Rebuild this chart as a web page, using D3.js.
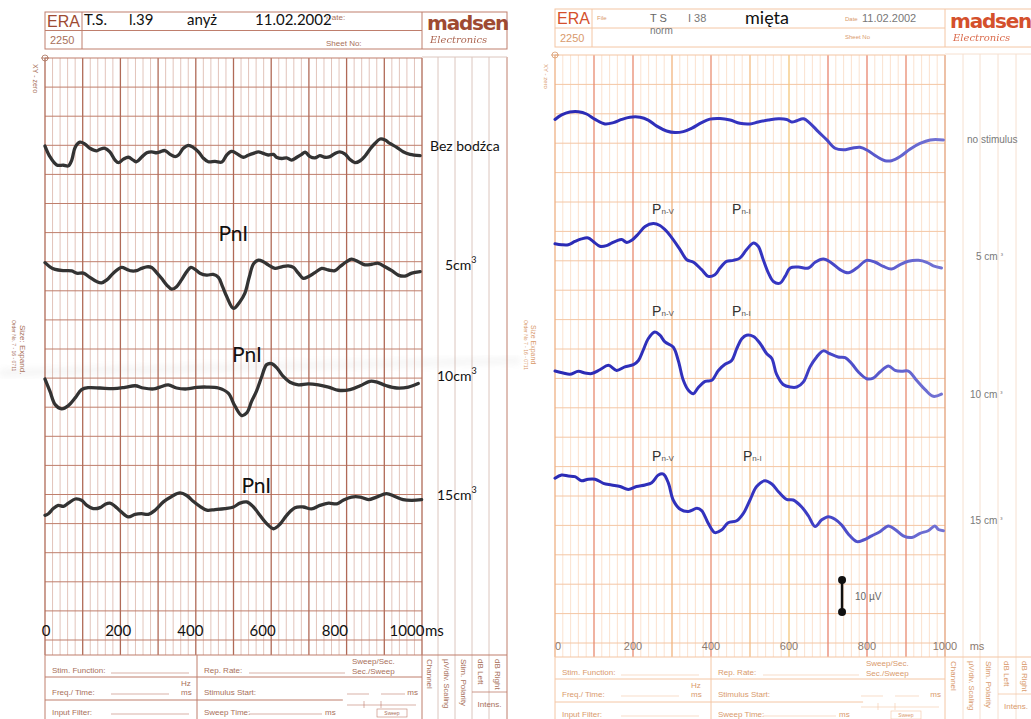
<!DOCTYPE html>
<html>
<head>
<meta charset="utf-8">
<script src="https://cdn.jsdelivr.net/npm/d3@7"></script>
<style>
	body { margin: 0; background: #fff; }
	svg { display: block; }
</style>
</head>
<body>
<div id="chart"></div>
<script>
// time axis (ms)
const timeTicks = [0, 200, 400, 600, 800, 1000];

// left sheet: anise ("anyż"), amplitude in µV, time in ms
const anyzLabels = ['Bez bodźca', '5cm', '10cm', '15cm'];
const anyzNoStim = [[0,2.8],[13,-0.5],[31,-3.1],[49,-3.2],[62,-3.4],[71,-1.6],[80,2.4],[93,4.0],[106,3.4],[119,2.1],[137,1.3],[146,1.8],[159,2.1],[172,1.0],[186,-1.6],[195,-2.4],[208,-1.3],[221,-0.7],[234,-1.6],[243,-2.1],[256,-0.7],[270,0.7],[283,1.0],[296,0.7],[305,1.0],[318,1.4],[332,0.2],[345,-0.5],[354,0],[367,2.1],[380,3.0],[393,2.4],[407,1.0],[420,-1.0],[433,-2.1],[451,-2.0],[469,-2.2],[482,0],[495,1.1],[508,0.5],[526,-0.7],[539,-0.1],[553,0.5],[566,1.0],[579,0.5],[592,0],[606,0.2],[614,-0.7],[628,-1.1],[641,-0.9],[654,-1.6],[668,-0.7],[681,0.2],[690,0.9],[703,-0.5],[716,-0.9],[729,-0.2],[743,-0.7],[756,-0.5],[769,0.5],[782,1.0],[796,0.3],[809,-1.4],[822,-2.4],[836,-1.8],[849,-0.3],[862,1.8],[875,3.6],[889,5.0],[902,4.7],[915,3.6],[933,2.4],[950,1.0],[968,0.2],[995,-0.2]];
const anyz5 = [[0,2.3],[13,1.0],[27,0.2],[49,-0.2],[71,-0.3],[84,-1.0],[102,-1.0],[119,-2.3],[137,-3.6],[150,-4.0],[164,-3.1],[181,-1.0],[203,0.8],[217,0.2],[230,-0.3],[243,-0.2],[256,0.5],[270,1.0],[283,0.8],[296,-0.8],[309,-2.6],[323,-4.7],[336,-6.0],[349,-5.2],[362,-3.1],[376,-0.5],[387,0.8],[398,0.2],[411,-1.0],[429,-1.6],[446,-1.4],[460,-2.3],[471,-5.2],[482,-8.3],[500,-12.0],[517,-9.9],[530,-7.3],[542,-2.1],[553,1.9],[566,3.1],[579,2.6],[592,1.6],[610,0.5],[628,1.0],[645,1.3],[659,0.8],[672,-1.0],[685,-2.6],[698,-2.1],[716,-0.8],[734,0.5],[752,0],[769,-0.2],[782,1.0],[800,2.6],[813,3.4],[831,2.6],[849,1.6],[867,1.8],[884,2.1],[902,1.0],[920,-0.2],[937,-1.6],[955,-1.9],[973,-1.0],[995,-0.5]];
const anyz10 = [[0,2.8],[13,-1.0],[27,-5.2],[44,-6.5],[62,-5.5],[80,-3.1],[97,-0.5],[115,0.1],[146,0],[181,-0.2],[212,0.2],[239,0.7],[261,0],[288,-0.3],[305,0.3],[327,1.0],[349,0],[376,-0.3],[402,0.2],[429,0.3],[460,0],[486,-1.6],[504,-5.7],[522,-8.6],[535,-7.8],[548,-4.2],[561,-1.0],[575,3.6],[588,7.3],[601,7.6],[615,6.3],[632,3.6],[650,1.8],[672,1.0],[698,1.3],[725,1.0],[752,0.3],[778,-0.7],[809,-0.5],[836,0.7],[862,2.1],[879,1.9],[906,0.7],[933,0],[964,0.3],[990,1.4]];
const anyz15 = [[0,-2.6],[9,-2.1],[22,-0.5],[35,0.5],[49,0.2],[62,1.2],[80,2.5],[97,2.1],[111,0.5],[128,-0.5],[146,-0.2],[159,0.8],[172,1.2],[186,0.2],[203,-1.6],[221,-3.1],[239,-2.3],[256,-2.1],[274,-2.3],[292,-1.0],[314,1.6],[336,3.3],[358,4.4],[376,3.6],[393,1.8],[411,0.2],[429,-1.0],[451,-0.8],[477,-0.5],[500,0],[517,1.2],[535,1.6],[553,0],[570,-2.6],[588,-5.2],[606,-6.8],[623,-5.4],[641,-2.6],[663,-0.2],[685,0],[707,-0.6],[729,0.5],[752,1.2],[774,1.0],[791,2.1],[813,3.1],[836,3.1],[858,2.3],[879,3.1],[906,4.2],[928,3.3],[950,2.3],[973,2.1],[999,2.3]];
// PnI marks: [trace index, ms, µV above baseline]
const anyzPeaks = [[1, 460, 9.0], [2, 496, 8.1], [3, 521, 4.4]];

// right sheet: mint ("mięta")
const mietaLabels = ['no stimulus', '5 cm', '10 cm', '15 cm'];
const mietaNoStim = [[0,3.3],[17,4.7],[38,5.6],[60,5.7],[81,5.0],[103,3.3],[128,1.9],[150,2.3],[171,3.3],[192,4.0],[218,4.0],[239,3.1],[261,1.2],[286,-0.3],[308,-0.8],[329,-0.5],[350,0.5],[376,2.3],[397,3.4],[423,3.6],[449,3.1],[474,2.1],[500,1.9],[521,2.5],[547,3.1],[573,3.5],[594,3.3],[607,2.5],[620,2.9],[637,3.5],[654,2.1],[675,-0.5],[697,-3.1],[718,-5.7],[739,-6.2],[761,-5.7],[782,-5.4],[803,-6.5],[825,-8.3],[846,-9.6],[863,-9.6],[885,-8.3],[910,-6.0],[936,-4.2],[962,-3.1],[996,-3.1]];
const mieta5 = [[0,2.9],[17,2.6],[34,2.6],[51,3.6],[68,4.4],[85,4.7],[98,3.6],[115,2.1],[132,2.3],[145,3.1],[158,3.8],[171,4.2],[184,3.3],[197,4.0],[214,6.0],[231,8.3],[252,9.2],[269,8.6],[286,6.8],[303,4.2],[321,1.0],[338,-2.1],[355,-2.9],[376,-5.2],[393,-7.3],[410,-6.8],[423,-4.7],[440,-2.6],[457,-2.3],[474,-1.6],[491,1.0],[509,3.1],[521,2.1],[534,-2.1],[547,-6.2],[560,-8.9],[577,-9.4],[590,-7.3],[603,-4.7],[624,-4.4],[650,-4.7],[667,-2.9],[688,-1.9],[709,-3.1],[731,-5.2],[752,-6.2],[774,-4.7],[799,-2.3],[821,-2.9],[842,-4.2],[863,-5.0],[885,-3.6],[906,-2.6],[932,-2.3],[953,-2.9],[970,-4.0],[991,-4.7]];
const mieta10 = [[0,0.3],[21,-0.3],[38,-0.7],[60,0.2],[77,-0.3],[94,-0.5],[115,0.7],[137,2.1],[158,0.5],[179,1.6],[201,2.3],[214,3.6],[226,6.8],[239,10.4],[256,12.5],[269,11.5],[282,9.4],[303,7.8],[316,3.6],[329,-2.6],[342,-5.7],[355,-6.8],[367,-4.9],[385,-2.9],[402,-2.6],[419,0.5],[436,2.4],[453,3.6],[466,7.3],[479,10.4],[491,11.5],[509,11.1],[526,8.9],[543,5.7],[556,4.2],[568,-0.7],[585,-3.9],[603,-4.7],[620,-4.7],[637,-3.1],[654,1.6],[671,4.7],[688,6.6],[705,5.7],[726,4.7],[744,4.5],[761,2.6],[778,0],[799,-2.1],[816,-1.9],[833,0],[855,1.9],[872,0.5],[889,0.2],[906,0.3],[927,-2.6],[949,-5.5],[970,-7.6],[991,-6.9]];
const mieta15 = [[0,6.8],[17,7.8],[34,7.5],[51,7.3],[68,6.0],[85,6.5],[103,6.5],[124,5.2],[145,4.7],[167,4.2],[188,3.3],[209,4.2],[231,4.7],[248,5.4],[265,7.8],[278,8.1],[291,5.2],[303,0],[321,-2.9],[342,-3.6],[364,-2.6],[376,-3.3],[393,-7.3],[410,-10.2],[427,-9.4],[444,-7.1],[466,-6.5],[483,-4.2],[500,0],[517,4.2],[538,6.0],[556,5.0],[573,2.6],[594,0.2],[611,0],[632,-2.1],[650,-5.0],[667,-8.3],[684,-6.2],[701,-5.2],[718,-6.0],[735,-7.8],[752,-10.6],[774,-13.0],[791,-12.5],[812,-11.2],[833,-9.9],[855,-8.1],[872,-9.2],[893,-11.2],[915,-11.7],[936,-10.4],[957,-9.6],[974,-8.1],[983,-9.2],[996,-9.6]];
// Pn-V / Pn-I marks: [trace index, label sub, ms, µV above baseline]
const mietaPeaks = [[1,'n-V',249,12.2],[1,'n-I',454,12.2],[2,'n-V',249,17.4],[2,'n-I',454,17.4],[3,'n-V',249,12.2],[3,'n-I',482,12.2]];
// calibration bar: ms, from µV, to µV (relative to the last trace)
const calBar = [736, -25, -35];

const svg = d3.select('#chart').append('svg').attr('width', 1031).attr('height', 719);
const defs = svg.append('defs');
defs.append('filter').attr('id', 'soft').append('feGaussianBlur').attr('stdDeviation', 3);
let grad = defs.append('linearGradient').attr('id', 'blueInk')
	.attr('gradientUnits', 'userSpaceOnUse').attr('x1', 555).attr('x2', 945).attr('y1', 0).attr('y2', 0);
grad.append('stop').attr('offset', 0).attr('stop-color', '#2a2ab4');
grad.append('stop').attr('offset', 0.6).attr('stop-color', '#3636c2');
grad.append('stop').attr('offset', 1).attr('stop-color', '#7474d4');

const amp = d3.scaleLinear().domain([0, 10]).range([0, -32]);   // 10 µV = 32 px

let pages = [
	{
		x: d3.scaleLinear().domain([0, 1000]).range([45, 422]),
		gy0: 58, gy1: 655, hStep: 29.1,
		cols: [438, 455, 472, 489, 507],
		hdr: { x0: 45, x1: 507, y0: 12, y1: 49 },
		logoX0: 422, formDiv: 197,
		majors: ['#b06a57'], minor: '#dfbdb3', hline: '#bf7e6c',
		colLine: '#dcc6be', ink: '#a8705a', logo: '#9e4a32',
		bases: [155, 270, 388, 507]
	},
	{
		x: d3.scaleLinear().domain([0, 1000]).range([555, 945]),
		gy0: 55, gy1: 657, hStep: 29.4,
		cols: [963, 980, 998, 1016, 1034],
		hdr: { x0: 555, x1: 1040, y0: 9, y1: 47 },
		logoX0: 945, formDiv: 711,
		majors: ['#eeb184', '#e88a70', '#e88a70', '#f2b47e', '#e98e72', '#f3bd84', '#f4c67c', '#e8846e', '#e8846e', '#e88a70', '#e3a078'],
		minor: '#fadfca', hline: '#f4c6a4',
		colLine: '#f6e0d0', ink: '#d99a6c', logo: '#d4502c',
		bases: [130, 253, 372, 500]
	}
];

function drawGrid(g, p) {
	let x = p.x;
	let minors = d3.range(0, 1001, 20).filter(d => d % 100 !== 0);
	g.selectAll('.minor').data(minors).enter().append('line')
		.attr('x1', d => x(d)).attr('x2', d => x(d))
		.attr('y1', p.gy0).attr('y2', p.gy1)
		.attr('stroke', p.minor).attr('stroke-width', 0.9);
	g.selectAll('.hl').data(d3.range(p.gy0 + p.hStep, p.gy1 - 5, p.hStep)).enter().append('line')
		.attr('x1', x(0)).attr('x2', x(1000)).attr('y1', d => d).attr('y2', d => d)
		.attr('stroke', p.hline).attr('stroke-width', 1);
	g.selectAll('.major').data(d3.range(0, 1001, 100)).enter().append('line')
		.attr('x1', d => x(d)).attr('x2', d => x(d))
		.attr('y1', p.gy0).attr('y2', p.gy1)
		.attr('stroke', (d, i) => p.majors[i % p.majors.length]).attr('stroke-width', 1.3);
	g.append('line').attr('x1', x(0)).attr('x2', x(1000)).attr('y1', p.gy0).attr('y2', p.gy0)
		.attr('stroke', p.hline).attr('stroke-width', 1.2);
	// side columns
	g.selectAll('.col').data(p.cols).enter().append('line')
		.attr('x1', d => d).attr('x2', d => d).attr('y1', p.gy0 - 1).attr('y2', 719)
		.attr('stroke', (d, i) => i === p.cols.length - 1 ? p.hline : p.colLine).attr('stroke-width', 1);
	g.append('line').attr('x1', x(1000)).attr('x2', x(1000)).attr('y1', p.gy1).attr('y2', 719)
		.attr('stroke', p.hline);
	g.append('line').attr('x1', x(1000)).attr('x2', p.cols[p.cols.length - 1]).attr('y1', p.gy0 - 1).attr('y2', p.gy0 - 1)
		.attr('stroke', p.colLine);
	// XY zero mark
	g.append('circle').attr('cx', x(0)).attr('cy', p.gy0).attr('r', 3)
		.attr('fill', 'none').attr('stroke', p.ink).attr('stroke-width', 0.8);
	g.append('line').attr('x1', x(0) - 4).attr('x2', x(0) + 4).attr('y1', p.gy0).attr('y2', p.gy0).attr('stroke', p.ink).attr('stroke-width', 0.8);
}

function drawHeader(g, p, logoY) {
	let h = p.hdr;
	g.append('rect').attr('x', h.x0).attr('y', h.y0).attr('width', h.x1 - h.x0).attr('height', h.y1 - h.y0)
		.attr('fill', 'none').attr('stroke', p.hline).attr('stroke-width', 1);
	let mid = (h.y0 + h.y1) / 2;
	g.append('line').attr('x1', h.x0).attr('x2', p.logoX0).attr('y1', mid).attr('y2', mid).attr('stroke', p.hline);
	[h.x0 + 37, p.logoX0].forEach(v => g.append('line').attr('x1', v).attr('x2', v).attr('y1', h.y0).attr('y2', h.y1).attr('stroke', p.hline));
	g.append('text').attr('x', h.x0 + 2).attr('y', h.y0 + 15).text('ERA')
		.attr('font-family', 'Liberation Sans, sans-serif').attr('font-size', 16).attr('fill', p.logo);
	g.append('text').attr('x', h.x0 + 5).attr('y', h.y1 - 5).text('2250')
		.attr('font-family', 'Liberation Sans, sans-serif').attr('font-size', 11).attr('fill', p.ink);
	g.append('text').attr('x', p.logoX0 + 5).attr('y', logoY).text('madsen')
		.attr('font-family', 'DejaVu Sans, sans-serif').attr('font-weight', 'bold').attr('font-size', 20)
		.attr('letter-spacing', -1.2).attr('fill', p.logo);
	g.append('text').attr('x', p.logoX0 + 8).attr('y', logoY + 13).text('Electronics')
		.attr('font-family', 'DejaVu Serif, serif').attr('font-style', 'italic').attr('font-size', 10)
		.attr('fill', p.logo).attr('opacity', 0.85);
}

function drawForm(g, p) {
	let x0 = p.x(0), x1 = p.x(1000), y0 = p.gy1, dv = p.formDiv;
	let ink = p.ink;
	let font = 'Liberation Sans, sans-serif';
	let ln = (a, b, c, d, w) => g.append('line').attr('x1', a).attr('x2', b).attr('y1', c).attr('y2', d)
		.attr('stroke', p.hline).attr('stroke-width', w || 1);
	let tx = (s, x, y, anchor) => g.append('text').attr('x', x).attr('y', y).text(s)
		.attr('font-family', font).attr('font-size', 8).attr('fill', ink).attr('text-anchor', anchor || 'start');
	ln(x0, p.cols[p.cols.length - 1], y0, y0, 1.2);
	ln(x0, x1, y0 + 22, y0 + 22);
	ln(x0, x0 + (x1 - x0) * 0.79, y0 + 45, y0 + 45);
	ln(x0, x0, y0, 719);
	ln(dv, dv, y0, 719);
	tx('Stim. Function:', x0 + 7, y0 + 18);
	ln(x0 + 66, x0 + 144, y0 + 18, y0 + 18, 0.6);
	tx('Freq./ Time:', x0 + 7, y0 + 40);
	ln(x0 + 66, x0 + 124, y0 + 39, y0 + 39, 0.6);
	tx('Hz', x0 + 136, y0 + 31); tx('ms', x0 + 136, y0 + 40);
	tx('Input Filter:', x0 + 7, y0 + 60);
	ln(x0 + 66, x0 + 144, y0 + 59, y0 + 59, 0.6);
	tx('Rep. Rate:', dv + 7, y0 + 18);
	ln(dv + 52, dv + 148, y0 + 18, y0 + 18, 0.6);
	tx('Sweep/Sec.', dv + 155, y0 + 9); tx('Sec./Sweep', dv + 155, y0 + 19);
	tx('Stimulus Start:', dv + 7, y0 + 40);
	ln(dv + 150, dv + 172, y0 + 39, y0 + 39, 0.6);
	ln(dv + 184, dv + 208, y0 + 39, y0 + 39, 0.6);
	tx('ms', x1 - 4, y0 + 40, 'end');
	ln(dv + 150, x1 - 6, y0 + 50, y0 + 50, 0.6);
	ln(dv + 167, dv + 167, y0 + 46, y0 + 53, 0.6);
	ln(dv + 184, dv + 184, y0 + 46, y0 + 53, 0.6);
	g.append('rect').attr('x', dv + 180).attr('y', y0 + 54).attr('width', 30).attr('height', 8)
		.attr('fill', 'none').attr('stroke', p.hline).attr('stroke-width', 0.6);
	g.append('text').attr('x', dv + 195).attr('y', y0 + 60).text('Sweep').attr('text-anchor', 'middle')
		.attr('font-family', font).attr('font-size', 5).attr('fill', ink);
	tx('Sweep Time:', dv + 7, y0 + 60);
	ln(dv + 52, dv + 125, y0 + 59, y0 + 59, 0.6);
	tx('ms', dv + 128, y0 + 60);
	// rotated column headers
	let colMid = [(x1 + p.cols[0]) / 2, (p.cols[0] + p.cols[1]) / 2, (p.cols[1] + p.cols[2]) / 2, (p.cols[2] + p.cols[3]) / 2, (p.cols[3] + p.cols[4]) / 2];
	[['Channel', 8], ['µV/div. Scaling', 7.5], ['Stim. Polarity', 8], ['dB Left', 8], ['dB Right', 8]].forEach((s, i) => {
		g.append('text').attr('transform', `translate(${colMid[i] - 3},${y0 + 4}) rotate(90)`).text(s[0])
			.attr('font-family', font).attr('font-size', s[1]).attr('fill', ink);
	});
	ln(p.cols[2], p.cols[4], y0 + 37, y0 + 37, 0.8);
	tx('Intens.', (p.cols[2] + p.cols[4]) / 2, y0 + 52, 'middle');
}

function drawTraces(g, p, traces, style) {
	traces.forEach((tr, i) => {
		let line = d3.line()
			.x(d => p.x(d[0]))
			.y(d => p.bases[i] + amp(d[1]))
			.curve(d3.curveCatmullRom.alpha(0.5));
		g.append('path').datum(tr).attr('d', line)
			.attr('fill', 'none').attr('stroke', style.color).attr('stroke-width', style.width)
			.attr('stroke-linejoin', 'round').attr('stroke-linecap', 'round');
	});
}

// ---------- left sheet ----------
let left = svg.append('g');
let pL = pages[0];
drawGrid(left, pL);
drawHeader(left, pL, 30);
drawForm(left, pL);
// folded paper crease
left.append('path').attr('d', 'M0,369 L520,357 L520,364 L0,377 Z')
	.attr('fill', '#8a8a8a').attr('opacity', 0.08).attr('filter', 'url(#soft)');
drawTraces(left, pL, [anyzNoStim, anyz5, anyz10, anyz15], { color: '#333', width: 3.3 });

let hdrFont = 'Lato, sans-serif';
left.append('text').attr('x', 326).attr('y', 20).text('Date:')
	.attr('font-family', 'Liberation Sans, sans-serif').attr('font-size', 8).attr('fill', pL.ink);
left.append('text').attr('x', 326).attr('y', 46).text('Sheet No:')
	.attr('font-family', 'Liberation Sans, sans-serif').attr('font-size', 8).attr('fill', pL.ink);
[['T.S.', 84], ['l.39', 129], ['anyż', 187], ['11.02.2002', 255]].forEach(t => {
	left.append('text').attr('x', t[1]).attr('y', 25).text(t[0])
		.attr('font-family', hdrFont).attr('font-size', 15).attr('fill', '#111')
		.attr('stroke', '#fff').attr('stroke-width', 2).attr('paint-order', 'stroke');
});

// overlay tick labels typed over the left sheet
let xLab = d3.scaleLinear().domain([0, 1000]).range([46, 407]);
left.selectAll('.tick').data(timeTicks).enter().append('text')
	.attr('x', d => xLab(d)).attr('y', 636).attr('text-anchor', 'middle').text(d => d)
	.attr('font-family', hdrFont).attr('font-size', 15).attr('fill', '#111');
left.append('text').attr('x', xLab(1000) + 18).attr('y', 636).text('ms')
	.attr('font-family', hdrFont).attr('font-size', 15).attr('fill', '#111');

let leftLabelX = [430, 445, 437, 437];
anyzLabels.forEach((s, i) => {
	let t = left.append('text').attr('x', leftLabelX[i]).attr('y', pL.bases[i] + (i === 0 ? -4 : (i === 1 ? 0 : -7)))
		.attr('font-family', hdrFont).attr('font-size', 14).attr('fill', '#111').text(s);
	if (i > 0) t.append('tspan').attr('dy', -7).attr('font-size', 9).text('3');
});
anyzPeaks.forEach(pk => {
	left.append('text').attr('x', pL.x(pk[1])).attr('y', pL.bases[pk[0]] + amp(pk[2]))
		.attr('font-family', hdrFont).attr('font-size', 21).attr('fill', '#111').text('PnI');
});

// side notes
let sideNote = (g, s, x, y, size, col) => g.append('text').attr('transform', `translate(${x},${y}) rotate(90)`)
	.text(s).attr('font-family', 'Liberation Sans, sans-serif').attr('font-size', size).attr('fill', col);
sideNote(left, 'XY - zero', 33, 64, 7, pL.ink);
sideNote(left, 'Size: Expand.', 20, 325, 8, pL.ink);
sideNote(left, 'Order No. 7 - 16 - 0711', 12, 320, 5, pL.ink);

// ---------- right sheet ----------
let right = svg.append('g');
let pR = pages[1];
drawGrid(right, pR);
drawHeader(right, pR, 28);
drawForm(right, pR);
drawTraces(right, pR, [mietaNoStim, mieta5, mieta10, mieta15], { color: 'url(#blueInk)', width: 3 });

let grey = '#7a7a7a';
let rf = 'Liberation Sans, sans-serif';
right.append('text').attr('x', 597).attr('y', 20).text('File').attr('font-family', rf).attr('font-size', 6).attr('fill', pR.ink);
right.append('text').attr('x', 650).attr('y', 22).text('T S').attr('font-family', rf).attr('font-size', 11).attr('fill', '#666');
right.append('text').attr('x', 688).attr('y', 22).text('I 38').attr('font-family', rf).attr('font-size', 11).attr('fill', '#777');
right.append('text').attr('x', 650).attr('y', 34).text('norm').attr('font-family', rf).attr('font-size', 10).attr('fill', '#777');
right.append('text').attr('x', 745).attr('y', 24).text('mięta').attr('font-family', hdrFont).attr('font-size', 18).attr('fill', '#111');
right.append('text').attr('x', 845).attr('y', 21).text('Date').attr('font-family', rf).attr('font-size', 6).attr('fill', pR.ink);
right.append('text').attr('x', 862).attr('y', 22).text('11.02.2002').attr('font-family', rf).attr('font-size', 11).attr('fill', '#777');
right.append('text').attr('x', 845).attr('y', 39).text('Sheet No').attr('font-family', rf).attr('font-size', 6).attr('fill', pR.ink);

right.selectAll('.tick').data(timeTicks).enter().append('text')
	.attr('x', d => pR.x(d) + (d === 0 ? 3 : 0)).attr('y', 650).attr('text-anchor', 'middle').text(d => d)
	.attr('font-family', rf).attr('font-size', 11).attr('fill', '#8b7a70');
right.append('text').attr('x', pR.x(1000) + 32).attr('y', 650).attr('text-anchor', 'middle').text('ms')
	.attr('font-family', rf).attr('font-size', 11).attr('fill', '#8b7a70');

let rightLabelX = [967, 976, 970, 970];
let rightLabelDy = [13, 7, 26, 24];
mietaLabels.forEach((s, i) => {
	let t = right.append('text').attr('x', rightLabelX[i]).attr('y', pR.bases[i] + rightLabelDy[i])
		.attr('font-family', rf).attr('font-size', 10).attr('fill', grey).text(s);
	if (i > 0) t.append('tspan').attr('dx', 3).attr('dy', -3).attr('font-size', 7).text('³');
});
mietaPeaks.forEach(pk => {
	let t = right.append('text').attr('x', pR.x(pk[2])).attr('y', pR.bases[pk[0]] + amp(pk[3]))
		.attr('font-family', rf).attr('font-size', 14).attr('fill', '#333').text('P');
	t.append('tspan').attr('font-size', 8).attr('fill', '#555').text(pk[1]);
});

// 10 µV calibration bar
let cx = pR.x(calBar[0]);
let cy1 = pR.bases[3] + amp(calBar[1]), cy2 = pR.bases[3] + amp(calBar[2]);
right.append('line').attr('x1', cx).attr('x2', cx).attr('y1', cy1).attr('y2', cy2)
	.attr('stroke', '#111').attr('stroke-width', 2.5);
right.selectAll('.cal').data([cy1, cy2]).enter().append('circle')
	.attr('cx', cx).attr('cy', d => d).attr('r', 4).attr('fill', '#111');
right.append('text').attr('x', cx + 13).attr('y', (cy1 + cy2) / 2 + 4).text('10 µV')
	.attr('font-family', rf).attr('font-size', 10).attr('fill', '#666');

sideNote(right, 'XY - zero', 544, 64, 6, pR.ink);
sideNote(right, 'Size Expand', 531, 325, 7, pR.ink);
sideNote(right, 'Order No 7 - 16 - 0711', 524, 320, 5, pR.ink);
</script>
</body>
</html>
